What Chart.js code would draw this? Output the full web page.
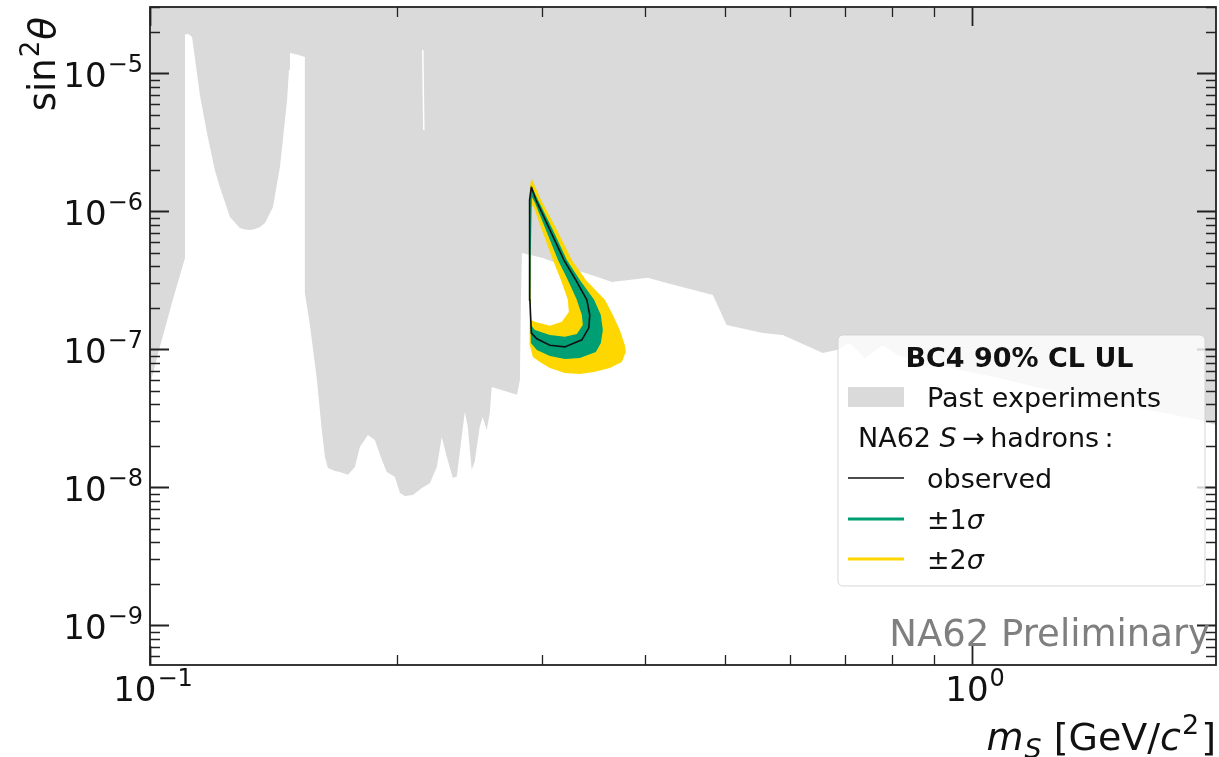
<!DOCTYPE html>
<html>
<head>
<meta charset="utf-8">
<script src="https://cdn.jsdelivr.net/npm/chart.js@4.4.1/dist/chart.umd.min.js"></script>
<style>
    html, body { margin: 0; padding: 0; background: #fff; }
    #wrap { width: 1219px; height: 757px; position: relative; }
</style>
</head>
<body>
<div id="wrap"><canvas id="limitChart"></canvas></div>
<script>
(function limits () {
    'use strict';

    // axis ranges and labelled decades
    var massRange = [0.1, 1.98];
    var sin2Range = [5.15e-10, 3.02e-5];
    var massDecades = [0.1, 1];
    var massTickLabels = [['10', '\u22121'], ['10', '0']];
    var sin2Decades = [1e-9, 1e-8, 1e-7, 1e-6, 1e-5];
    var sin2TickLabels = [['10', '\u22129'], ['10', '\u22128'], ['10', '\u22127'], ['10', '\u22126'], ['10', '\u22125']];

    // lower edge of the region excluded by past experiments: [m_S, sin2theta]
    var pastEdge = [
        [0.1, 5.51e-8], [0.1028, 1.04e-7], [0.1066, 2.28e-7], [0.1103, 4.59e-7],
        [0.1103, 1.90e-5], [0.1112, 1.93e-5], [0.1125, 1.83e-5], [0.1150, 6.96e-6],
        [0.1173, 3.69e-6], [0.1199, 1.99e-6], [0.1216, 1.50e-6], [0.1251, 9.09e-7],
        [0.1286, 7.57e-7], [0.1305, 7.38e-7], [0.1323, 7.32e-7], [0.1342, 7.45e-7],
        [0.1361, 7.69e-7], [0.1380, 8.23e-7],
        [0.1411, 1.07e-6], [0.1439, 2.09e-6], [0.1451, 3.29e-6], [0.1468, 6.40e-6],
        [0.1476, 1.06e-5], [0.1480, 1.40e-5], [0.1513, 1.36e-5], [0.1543, 1.31e-5],
        [0.1543, 2.56e-7], [0.1565, 1.50e-7], [0.1596, 5.99e-8], [0.1618, 2.60e-8],
        [0.1632, 1.66e-8], [0.1646, 1.38e-8], [0.1678, 1.31e-8], [0.1702, 1.29e-8],
        [0.1741, 1.23e-8], [0.1775, 1.40e-8], [0.1800, 1.96e-8], [0.1841, 2.39e-8],
        [0.1877, 2.20e-8], [0.1914, 1.58e-8], [0.1941, 1.29e-8], [0.1985, 1.19e-8],
        [0.2014, 9.09e-9], [0.2042, 8.65e-9], [0.2088, 8.79e-9], [0.2141, 9.88e-9],
        [0.2190, 1.07e-8], [0.2233, 1.40e-8], [0.2264, 2.31e-8], [0.2296, 1.66e-8],
        [0.2335, 1.17e-8], [0.2361, 1.19e-8], [0.2381, 1.77e-8], [0.2415, 3.51e-8],
        [0.2435, 2.74e-8], [0.2462, 1.34e-8], [0.2483, 1.53e-8], [0.2518, 2.74e-8],
        [0.2539, 3.23e-8], [0.2568, 2.60e-8], [0.2590, 3.45e-8], [0.2604, 5.33e-8],
        [0.2795, 4.67e-8], [0.2818, 5.99e-8], [0.2826, 2.28e-7], [0.2834, 4.99e-7],
        [0.3006, 4.59e-7], [0.3214, 3.95e-7], [0.3525, 3.29e-7], [0.3645, 3.07e-7],
        [0.4031, 3.29e-7], [0.4252, 3.02e-7], [0.4838, 2.47e-7], [0.5028, 1.50e-7],
        [0.5564, 1.31e-7], [0.5884, 1.27e-7], [0.6580, 9.40e-8], [0.6843, 9.88e-8],
        [0.7098, 1.11e-7], [0.7403, 8.65e-8], [0.7785, 1.07e-7], [0.8164, 8.94e-8],
        [0.8881, 8.09e-8], [0.9656, 7.08e-8], [1.080, 6.19e-8], [1.208, 5.24e-8],
        [1.351, 4.59e-8], [1.511, 4.01e-8], [1.690, 3.51e-8], [1.891, 3.07e-8],
        [1.98, 2.83e-8]
    ];
    // narrow uncovered slit inside the excluded region
    var pastSlit = [[0.2147, 1.475e-5], [0.2153, 3.88e-6]];

    // NA62 contours, each a closed loop
    var band2Outer = [
        [0.2910, 1.74e-6], [0.2989, 1.21e-6], [0.3126, 7.32e-7], [0.3259, 4.44e-7],
        [0.3390, 3.18e-7], [0.3575, 2.28e-7], [0.3656, 1.77e-7], [0.3728, 1.38e-7],
        [0.3781, 1.07e-7], [0.3791, 9.56e-8], [0.3749, 8.09e-8], [0.3624, 7.32e-8],
        [0.3469, 6.85e-8], [0.3333, 6.62e-8], [0.3196, 6.73e-8], [0.3065, 7.32e-8],
        [0.2980, 8.09e-8], [0.2922, 8.79e-8], [0.2898, 1.07e-7], [0.2893, 5.24e-7],
        [0.2898, 1.43e-6], [0.2910, 1.74e-6]
    ];
    var band2Inner = [
        [0.2914, 1.11e-6], [0.2906, 4.44e-7], [0.2906, 1.63e-7], [0.2939, 1.58e-7],
        [0.3065, 1.48e-7], [0.3169, 1.58e-7], [0.3232, 1.86e-7], [0.3223, 2.28e-7],
        [0.3161, 3.18e-7], [0.3091, 4.44e-7], [0.2997, 7.32e-7], [0.2930, 1.07e-6],
        [0.2914, 1.11e-6]
    ];
    var band1Outer = [
        [0.2906, 1.55e-6], [0.2964, 1.21e-6], [0.3091, 7.32e-7], [0.3214, 4.44e-7],
        [0.3333, 3.18e-7], [0.3469, 2.28e-7], [0.3535, 1.77e-7], [0.3555, 1.38e-7],
        [0.3535, 1.11e-7], [0.3486, 9.56e-8], [0.3333, 8.65e-8], [0.3196, 8.51e-8],
        [0.3065, 8.94e-8], [0.2955, 9.88e-8], [0.2906, 1.11e-7], [0.2898, 4.44e-7],
        [0.2900, 1.31e-6], [0.2906, 1.55e-6]
    ];
    var band1Inner = [
        [0.2914, 1.27e-6], [0.2904, 4.44e-7], [0.2906, 1.50e-7], [0.2939, 1.38e-7],
        [0.3065, 1.27e-7], [0.3196, 1.23e-7], [0.3305, 1.29e-7], [0.3361, 1.50e-7],
        [0.3352, 1.77e-7], [0.3305, 2.28e-7], [0.3223, 3.18e-7], [0.3135, 4.44e-7],
        [0.3031, 7.32e-7], [0.2939, 1.15e-6], [0.2914, 1.27e-6]
    ];
    var observed = [
        [0.2910, 1.50e-6], [0.2947, 1.21e-6], [0.3065, 7.32e-7], [0.3187, 4.44e-7],
        [0.3295, 3.18e-7], [0.3399, 2.28e-7], [0.3427, 1.77e-7], [0.3418, 1.43e-7],
        [0.3352, 1.17e-7], [0.3196, 1.04e-7], [0.3065, 1.07e-7], [0.2955, 1.19e-7],
        [0.2910, 1.31e-7], [0.2898, 2.28e-7], [0.2893, 5.24e-7], [0.2898, 1.21e-6],
        [0.2910, 1.50e-6]
    ];

    var GREY = '#dadada';
    var GREEN = '#009e73';
    var YELLOW = '#ffd700';
    var INK = '#222222';
    var FONT = "'DejaVu Sans', sans-serif";

    function toXY(points) {
        return points.map(function (p) { return {x: p[0], y: p[1]}; });
    }

    function fontOf(p) {
        return (p.italic ? 'italic ' : '') + (p.bold ? 'bold ' : '') + p.size + 'px ' + FONT;
    }

    // draws a run of text pieces (sub/superscripts, italics) on one baseline
    function richText(ctx, parts, x, y, align) {
        var widths = parts.map(function (p) {
            ctx.font = fontOf(p);
            return ctx.measureText(p.t).width + (p.dx || 0);
        });
        var total = widths.reduce(function (s, w) { return s + w; }, 0);
        var cx = align === 'right' ? x - total : (align === 'center' ? x - total / 2 : x);
        ctx.textAlign = 'left';
        ctx.textBaseline = 'alphabetic';
        parts.forEach(function (p, i) {
            ctx.font = fontOf(p);
            ctx.fillText(p.t, cx + (p.dx || 0), y + (p.dy || 0));
            cx += widths[i];
        });
    }

    function powerLabel(pair) {
        return [{t: pair[0], size: 34}, {t: pair[1], size: 24, dy: -15, dx: 1}];
    }

    function tickValues(range) {
        var out = [];
        var lo = Math.floor(Math.log10(range[0]));
        var hi = Math.ceil(Math.log10(range[1]));
        for (var e = lo; e <= hi; e++) {
            for (var k = 1; k <= 9; k++) {
                var v = k * Math.pow(10, e);
                if (v >= range[0] && v <= range[1]) {
                    out.push({v: v, major: k === 1});
                }
            }
        }
        return out;
    }

    var decorations = {
        id: 'decorations',
        afterDatasetsDraw: function (chart) {
            var ctx = chart.ctx;
            var a = chart.chartArea;
            var xs = chart.scales.x;
            var ys = chart.scales.y;
            ctx.save();

            // tick marks pointing inwards on all four sides
            ctx.strokeStyle = INK;
            tickValues(massRange).forEach(function (t) {
                var px = Math.round(xs.getPixelForValue(t.v)) + 0.5;
                var len = t.major ? 19 : 10;
                ctx.lineWidth = t.major ? 1.8 : 1.3;
                ctx.beginPath();
                ctx.moveTo(px, a.bottom); ctx.lineTo(px, a.bottom - len);
                ctx.moveTo(px, a.top); ctx.lineTo(px, a.top + len);
                ctx.stroke();
            });
            tickValues(sin2Range).forEach(function (t) {
                var py = Math.round(ys.getPixelForValue(t.v)) + 0.5;
                var len = t.major ? 19 : 10;
                ctx.lineWidth = t.major ? 1.8 : 1.3;
                ctx.beginPath();
                ctx.moveTo(a.left, py); ctx.lineTo(a.left + len, py);
                ctx.moveTo(a.right, py); ctx.lineTo(a.right - len, py);
                ctx.stroke();
            });

            // frame
            ctx.lineWidth = 1.8;
            ctx.strokeRect(a.left, a.top, a.right - a.left, a.bottom - a.top);

            // tick labels
            ctx.fillStyle = '#111';
            massDecades.forEach(function (v, i) {
                richText(ctx, powerLabel(massTickLabels[i]), xs.getPixelForValue(v) + 3, a.bottom + 36, 'center');
            });
            sin2Decades.forEach(function (v, i) {
                richText(ctx, powerLabel(sin2TickLabels[i]), a.left - 7, ys.getPixelForValue(v) + 14, 'right');
            });

            // axis titles
            richText(ctx, [
                {t: 'm', size: 38, italic: true},
                {t: 'S', size: 27, italic: true, dy: 8, dx: 1},
                {t: ' [GeV/', size: 38},
                {t: 'c', size: 38, italic: true},
                {t: '2', size: 27, dy: -16, dx: 1},
                {t: ']', size: 38, dx: 2}
            ], a.right, 750, 'right');

            ctx.save();
            ctx.translate(55, a.top + 10);
            ctx.rotate(-Math.PI / 2);
            richText(ctx, [
                {t: 'sin', size: 37},
                {t: '2', size: 26, dy: -16, dx: 1},
                {t: '\u03b8', size: 37, italic: true, dx: 1}
            ], 0, 0, 'right');
            ctx.restore();

            // watermark
            ctx.fillStyle = '#7f7f7f';
            ctx.font = '37px ' + FONT;
            ctx.textAlign = 'right';
            ctx.textBaseline = 'alphabetic';
            ctx.fillText('NA62 Preliminary', a.right - 6, a.bottom - 19);

            drawLegend(ctx, chart);
            ctx.restore();
        }
    };

    function drawLegend(ctx, chart) {
        var a = chart.chartArea;
        var ds = chart.data.datasets;
        var box = {x: a.right - 378, y: a.top + 328, w: 367, h: 251};
        var r = 5;
        ctx.beginPath();
        ctx.moveTo(box.x + r, box.y);
        ctx.arcTo(box.x + box.w, box.y, box.x + box.w, box.y + box.h, r);
        ctx.arcTo(box.x + box.w, box.y + box.h, box.x, box.y + box.h, r);
        ctx.arcTo(box.x, box.y + box.h, box.x, box.y, r);
        ctx.arcTo(box.x, box.y, box.x + box.w, box.y, r);
        ctx.closePath();
        ctx.fillStyle = 'rgba(255,255,255,0.8)';
        ctx.fill();
        ctx.strokeStyle = 'rgba(204,204,204,0.8)';
        ctx.lineWidth = 1;
        ctx.stroke();

        var handleX = box.x + 10;
        var textX = box.x + 89;
        var rowY = [22, 62, 102, 143, 184, 224].map(function (d) { return box.y + d; });

        ctx.fillStyle = '#111';
        richText(ctx, [{t: 'BC4 90% CL UL', size: 27, bold: true}], box.x + box.w / 2 - 2, rowY[0] + 10, 'center');

        ctx.fillStyle = ds[0].backgroundColor;
        ctx.fillRect(handleX, rowY[1] - 10, 56, 20);
        ctx.fillStyle = '#111';
        richText(ctx, [{t: ds[0].label, size: 27}], textX, rowY[1] + 10);

        richText(ctx, [
            {t: 'NA62 ', size: 27},
            {t: 'S', size: 27, italic: true},
            {t: '\u2009\u2192\u2009hadrons\u2009:', size: 27}
        ], box.x + 20, rowY[2] + 10);

        [[4, 1.6, 'observed'], [3, 3, '\u00b11'], [2, 3, '\u00b12']].forEach(function (item, i) {
            var d = ds[item[0]];
            var y = rowY[3 + i];
            ctx.strokeStyle = d.legendColor;
            ctx.lineWidth = item[1];
            ctx.beginPath();
            ctx.moveTo(handleX, y);
            ctx.lineTo(handleX + 56, y);
            ctx.stroke();
            ctx.fillStyle = '#111';
            var parts = [{t: item[2], size: 27}];
            if (i > 0) {
                parts.push({t: '\u03c3', size: 27, italic: true});
            }
            richText(ctx, parts, textX, y + 10);
        });
    }

    var ctx = document.getElementById('limitChart').getContext('2d');

    new Chart(ctx, {
        type: 'line',
        data: {
            datasets: [{
                label: 'Past experiments',
                data: toXY(pastEdge),
                fill: 'end',
                backgroundColor: GREY,
                borderColor: 'transparent',
                borderWidth: 0,
                pointRadius: 0,
                order: 5
            }, {
                label: 'gap',
                data: toXY(pastSlit),
                fill: false,
                borderColor: '#ffffff',
                borderWidth: 1.5,
                pointRadius: 0,
                order: 4
            }, {
                label: '\u00b12\u03c3',
                data: toXY(band2Outer.concat(band2Inner)),
                fill: 'shape',
                backgroundColor: YELLOW,
                legendColor: YELLOW,
                borderColor: 'transparent',
                borderWidth: 0,
                pointRadius: 0,
                order: 3
            }, {
                label: '\u00b11\u03c3',
                data: toXY(band1Outer.concat(band1Inner)),
                fill: 'shape',
                backgroundColor: GREEN,
                legendColor: GREEN,
                borderColor: 'transparent',
                borderWidth: 0,
                pointRadius: 0,
                order: 2
            }, {
                label: 'observed',
                data: toXY(observed),
                fill: false,
                borderColor: '#111111',
                legendColor: '#111111',
                borderWidth: 1.6,
                pointRadius: 0,
                order: 1
            }]
        },
        options: {
            responsive: true,
            maintainAspectRatio: false,
            devicePixelRatio: 1,
            animation: false,
            layout: {padding: {top: 7, right: 3, left: 0, bottom: 0}},
            elements: {line: {tension: 0}},
            plugins: {
                legend: {display: false},
                tooltip: {enabled: false}
            },
            scales: {
                x: {
                    type: 'logarithmic',
                    min: massRange[0],
                    max: massRange[1],
                    grid: {display: false},
                    border: {display: false},
                    ticks: {display: false},
                    afterFit: function (scale) { scale.height = 92; }
                },
                y: {
                    type: 'logarithmic',
                    min: sin2Range[0],
                    max: sin2Range[1],
                    grid: {display: false},
                    border: {display: false},
                    ticks: {display: false},
                    afterFit: function (scale) { scale.width = 150; }
                }
            }
        },
        plugins: [decorations]
    });
}());
</script>
</body>
</html>
